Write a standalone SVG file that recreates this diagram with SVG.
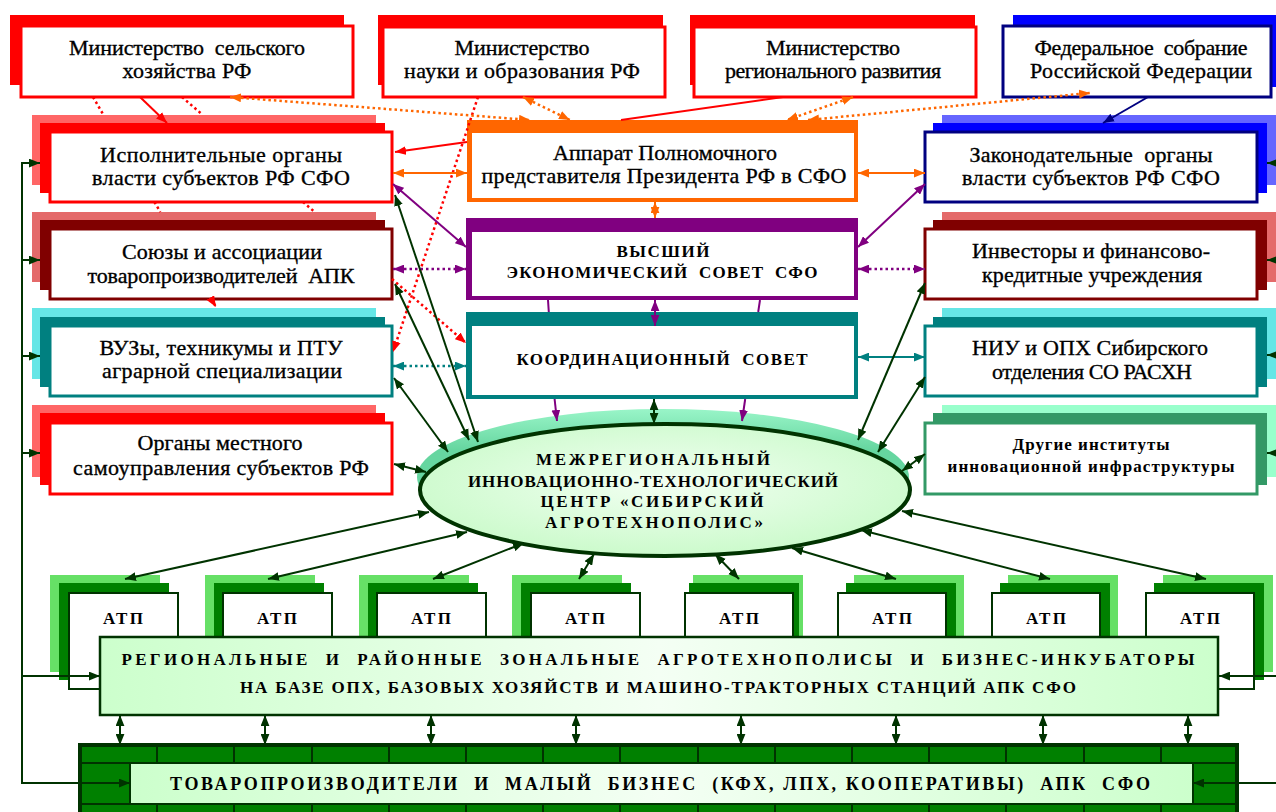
<svg xmlns="http://www.w3.org/2000/svg" width="1276" height="812" viewBox="0 0 1276 812">
<defs>
<style>
.t{font-family:"Liberation Serif","DejaVu Serif",serif;font-size:22px;fill:#000;stroke:#000;stroke-width:0.35px;text-anchor:middle}
.b{font-family:"Liberation Serif","DejaVu Serif",serif;font-size:17px;font-weight:bold;fill:#000;text-anchor:middle}
.bb{font-family:"Liberation Serif","DejaVu Serif",serif;font-size:18px;font-weight:bold;fill:#000;text-anchor:middle}
.fw{fill:#fff;stroke-width:3}
.c{fill:none;stroke-width:2}
.d{fill:none;stroke-width:2.5;stroke-dasharray:2.5 3}
.red{stroke:#FF0000}.org{stroke:#FF6600}.pur{stroke:#800080}.tea{stroke:#008080}.nav{stroke:#000080}.grn{stroke:#003300}
.atpL{fill:#66E066}.atpM{fill:#008000}.atpF{fill:#fff;stroke:#003300;stroke-width:2}
</style>
<marker id="aR" viewBox="0 0 10 8" refX="10" refY="4" markerWidth="11" markerHeight="9" markerUnits="userSpaceOnUse" orient="auto-start-reverse"><path d="M0,0L10,4L0,8z" fill="#FF0000"/></marker>
<marker id="aO" viewBox="0 0 10 8" refX="10" refY="4" markerWidth="11" markerHeight="9" markerUnits="userSpaceOnUse" orient="auto-start-reverse"><path d="M0,0L10,4L0,8z" fill="#FF6600"/></marker>
<marker id="aP" viewBox="0 0 10 8" refX="10" refY="4" markerWidth="11" markerHeight="9" markerUnits="userSpaceOnUse" orient="auto-start-reverse"><path d="M0,0L10,4L0,8z" fill="#800080"/></marker>
<marker id="aT" viewBox="0 0 10 8" refX="10" refY="4" markerWidth="11" markerHeight="9" markerUnits="userSpaceOnUse" orient="auto-start-reverse"><path d="M0,0L10,4L0,8z" fill="#008080"/></marker>
<marker id="aN" viewBox="0 0 10 8" refX="10" refY="4" markerWidth="11" markerHeight="9" markerUnits="userSpaceOnUse" orient="auto-start-reverse"><path d="M0,0L10,4L0,8z" fill="#000080"/></marker>
<marker id="aG" viewBox="0 0 10 8" refX="10" refY="4" markerWidth="11" markerHeight="9" markerUnits="userSpaceOnUse" orient="auto-start-reverse"><path d="M0,0L10,4L0,8z" fill="#003300"/></marker>
<linearGradient id="lg" x1="0" y1="0" x2="1" y2="0"><stop offset="0" stop-color="#CCFFCC"/><stop offset="0.5" stop-color="#F4FFF4"/><stop offset="1" stop-color="#CCFFCC"/></linearGradient>
<radialGradient id="eg" cx="0.5" cy="0.45" r="0.6"><stop offset="0" stop-color="#F2FFF2"/><stop offset="1" stop-color="#C8FAC8"/></radialGradient>
<linearGradient id="bandg" x1="0" y1="0" x2="0" y2="1"><stop offset="0" stop-color="#99F5C8"/><stop offset="0.3" stop-color="#66D6A0"/><stop offset="1" stop-color="#66D6A0"/></linearGradient>
</defs>

<g id="min-selhoz">
<rect x="10" y="15" width="334" height="70" fill="#FF0000"/>
<rect x="21" y="26" width="332" height="71" class="fw" stroke="#FF0000"/>
<text class="t" x="187" y="55" textLength="236" lengthAdjust="spacing" xml:space="preserve">Министерство  сельского</text>
<text class="t" x="187" y="78" textLength="129" lengthAdjust="spacing">хозяйства РФ</text>
</g>
<g id="min-nauki">
<rect x="378" y="15" width="285" height="70" fill="#FF0000"/>
<rect x="383" y="27" width="282" height="70" class="fw" stroke="#FF0000"/>
<text class="t" x="522" y="55" textLength="135" lengthAdjust="spacing">Министерство</text>
<text class="t" x="522" y="78" textLength="236" lengthAdjust="spacing">науки и образования РФ</text>
</g>
<g id="min-region">
<rect x="690" y="15" width="285" height="70" fill="#FF0000"/>
<rect x="694" y="27" width="282" height="70" class="fw" stroke="#FF0000"/>
<text class="t" x="833" y="55" textLength="134" lengthAdjust="spacing">Министерство</text>
<text class="t" x="833" y="78" textLength="216" lengthAdjust="spacing">регионального развития</text>
</g>
<g id="fed-sobranie">
<rect x="1013" y="15" width="263" height="72" fill="#0000FF"/>
<rect x="1003" y="26" width="268" height="71" class="fw" stroke="#000080"/>
<text class="t" x="1141" y="55" textLength="213" lengthAdjust="spacing" xml:space="preserve">Федеральное  собрание</text>
<text class="t" x="1141" y="78" textLength="222" lengthAdjust="spacing">Российской Федерации</text>
</g>

<g id="ispoln">
<rect x="32" y="115" width="344" height="70" fill="#FF6666"/>
<rect x="40" y="123" width="345" height="70" fill="#FF0000"/>
<rect x="50" y="132" width="342" height="70" class="fw" stroke="#FF0000"/>
<text class="t" x="221" y="162" textLength="242" lengthAdjust="spacing">Исполнительные органы</text>
<text class="t" x="221" y="185" textLength="258" lengthAdjust="spacing">власти субъектов РФ СФО</text>
</g>
<g id="soyuzy">
<rect x="32" y="212" width="344" height="70" fill="#E46A6A"/>
<rect x="40" y="220" width="345" height="70" fill="#800000"/>
<rect x="50" y="229" width="342" height="70" class="fw" stroke="#800000"/>
<text class="t" x="222" y="259" textLength="200" lengthAdjust="spacing">Союзы и ассоциации</text>
<text class="t" x="221" y="283" textLength="267" lengthAdjust="spacing" xml:space="preserve">товаропроизводителей  АПК</text>
</g>
<g id="vuzy">
<rect x="32" y="308" width="344" height="71" fill="#66E6E6"/>
<rect x="40" y="317" width="345" height="70" fill="#008080"/>
<rect x="50" y="326" width="342" height="70" class="fw" stroke="#008080"/>
<text class="t" x="221" y="355" textLength="243" lengthAdjust="spacing">ВУЗы, техникумы и ПТУ</text>
<text class="t" x="222" y="378" textLength="240" lengthAdjust="spacing">аграрной специализации</text>
</g>
<g id="organy-mestnogo">
<rect x="32" y="405" width="344" height="72" fill="#FF6666"/>
<rect x="40" y="413" width="345" height="72" fill="#FF0000"/>
<rect x="50" y="423" width="342" height="71" class="fw" stroke="#FF0000"/>
<text class="t" x="220" y="450" textLength="165" lengthAdjust="spacing">Органы местного</text>
<text class="t" x="221" y="475" textLength="296" lengthAdjust="spacing">самоуправления субъектов РФ</text>
</g>

<g id="apparat">
<rect x="467" y="120" width="391" height="82" fill="#FF6600"/>
<rect x="472" y="133" width="382" height="65" fill="#fff"/>
<text class="t" x="665" y="160" textLength="224" lengthAdjust="spacing">Аппарат Полномочного</text>
<text class="t" x="664" y="183" textLength="365" lengthAdjust="spacing">представителя Президента РФ в СФО</text>
</g>
<g id="vysshiy-sovet">
<rect x="466" y="218" width="392" height="82" fill="#800080"/>
<rect x="472" y="232" width="382" height="64" fill="#fff"/>
<text class="b" x="663" y="257" textLength="93" lengthAdjust="spacing">ВЫСШИЙ</text>
<text class="b" x="662" y="278" textLength="311" lengthAdjust="spacing" xml:space="preserve">ЭКОНОМИЧЕСКИЙ  СОВЕТ  СФО</text>
</g>
<g id="koord-sovet">
<rect x="466" y="312" width="392" height="87" fill="#008080"/>
<rect x="472" y="326" width="382" height="69" fill="#fff"/>
<text class="b" x="662" y="365" textLength="291" lengthAdjust="spacing" xml:space="preserve">КООРДИНАЦИОННЫЙ  СОВЕТ</text>
</g>

<g id="zakonod">
<rect x="942" y="115" width="334" height="70" fill="#6666FF"/>
<rect x="933" y="123" width="334" height="70" fill="#0000FF"/>
<rect x="925" y="132" width="332" height="70" class="fw" stroke="#000080"/>
<text class="t" x="1091" y="162" textLength="243" lengthAdjust="spacing" xml:space="preserve">Законодательные  органы</text>
<text class="t" x="1091" y="185" textLength="258" lengthAdjust="spacing">власти субъектов РФ СФО</text>
</g>
<g id="investory">
<rect x="942" y="212" width="334" height="70" fill="#E46A6A"/>
<rect x="933" y="220" width="334" height="70" fill="#800000"/>
<rect x="925" y="229" width="332" height="70" class="fw" stroke="#800000"/>
<text class="t" x="1091" y="258" textLength="238" lengthAdjust="spacing">Инвесторы и финансово-</text>
<text class="t" x="1092" y="282" textLength="220" lengthAdjust="spacing">кредитные учреждения</text>
</g>
<g id="niu">
<rect x="942" y="308" width="334" height="71" fill="#66E6E6"/>
<rect x="933" y="317" width="334" height="70" fill="#008080"/>
<rect x="925" y="326" width="332" height="70" class="fw" stroke="#008080"/>
<text class="t" x="1090" y="355" textLength="236" lengthAdjust="spacing">НИУ и ОПХ Сибирского</text>
<text class="t" x="1092" y="379" textLength="200" lengthAdjust="spacing">отделения СО РАСХН</text>
</g>
<g id="drugie">
<rect x="942" y="405" width="334" height="72" fill="#99FFCC"/>
<rect x="933" y="413" width="334" height="72" fill="#339966"/>
<rect x="925" y="423" width="332" height="71" class="fw" stroke="#339966"/>
<text class="b" x="1091" y="450" textLength="157" lengthAdjust="spacing">Другие институты</text>
<text class="b" x="1091" y="472" textLength="287" lengthAdjust="spacing">инновационной инфраструктуры</text>
</g>

<g id="agrotechnopolis">
<ellipse cx="663" cy="477" rx="246" ry="68" fill="url(#bandg)"/>
<ellipse cx="665" cy="490" rx="245" ry="66" fill="url(#eg)" stroke="#003300" stroke-width="4"/>
<text class="b" x="653" y="465" textLength="234" lengthAdjust="spacing">МЕЖРЕГИОНАЛЬНЫЙ</text>
<text class="b" x="653" y="487" textLength="370" lengthAdjust="spacing">ИННОВАЦИОННО-ТЕХНОЛОГИЧЕСКИЙ</text>
<text class="b" x="652" y="507" textLength="223" lengthAdjust="spacing">ЦЕНТР «СИБИРСКИЙ</text>
<text class="b" x="654" y="528" textLength="218" lengthAdjust="spacing">АГРОТЕХНОПОЛИС»</text>
</g>

<g id="atp1"><rect class="atpL" x="50" y="575" width="110" height="97"/><rect class="atpM" x="59" y="583" width="110" height="97"/><rect class="atpF" x="69" y="593" width="109" height="96"/><text class="b" x="123" y="624" textLength="40" lengthAdjust="spacing">АТП</text></g>
<g id="atp2"><rect class="atpL" x="205" y="575" width="110" height="97"/><rect class="atpM" x="214" y="583" width="110" height="97"/><rect class="atpF" x="223" y="593" width="109" height="96"/><text class="b" x="277" y="624" textLength="40" lengthAdjust="spacing">АТП</text></g>
<g id="atp3"><rect class="atpL" x="359" y="575" width="110" height="97"/><rect class="atpM" x="368" y="583" width="110" height="97"/><rect class="atpF" x="377" y="593" width="109" height="96"/><text class="b" x="431" y="624" textLength="40" lengthAdjust="spacing">АТП</text></g>
<g id="atp4"><rect class="atpL" x="512" y="575" width="110" height="97"/><rect class="atpM" x="521" y="583" width="110" height="97"/><rect class="atpF" x="531" y="593" width="109" height="96"/><text class="b" x="585" y="624" textLength="40" lengthAdjust="spacing">АТП</text></g>
<g id="atp5"><rect class="atpL" x="693" y="575" width="110" height="97"/><rect class="atpM" x="689" y="583" width="110" height="97"/><rect class="atpF" x="685" y="593" width="108" height="96"/><text class="b" x="739" y="624" textLength="40" lengthAdjust="spacing">АТП</text></g>
<g id="atp6"><rect class="atpL" x="854" y="575" width="110" height="97"/><rect class="atpM" x="846" y="583" width="110" height="97"/><rect class="atpF" x="838" y="593" width="108" height="96"/><text class="b" x="892" y="624" textLength="40" lengthAdjust="spacing">АТП</text></g>
<g id="atp7"><rect class="atpL" x="1008" y="575" width="110" height="97"/><rect class="atpM" x="1000" y="583" width="110" height="97"/><rect class="atpF" x="992" y="593" width="108" height="96"/><text class="b" x="1046" y="624" textLength="40" lengthAdjust="spacing">АТП</text></g>
<g id="atp8"><rect class="atpL" x="1163" y="575" width="110" height="97"/><rect class="atpM" x="1154" y="583" width="110" height="97"/><rect class="atpF" x="1146" y="593" width="108" height="96"/><text class="b" x="1200" y="624" textLength="40" lengthAdjust="spacing">АТП</text></g>

<g id="regional">
<rect x="100" y="637" width="1118" height="78" fill="url(#lg)" stroke="#003300" stroke-width="2.5"/>
<text class="b" x="658" y="665" textLength="1073" lengthAdjust="spacing" xml:space="preserve">РЕГИОНАЛЬНЫЕ  И  РАЙОННЫЕ  ЗОНАЛЬНЫЕ  АГРОТЕХНОПОЛИСЫ  И  БИЗНЕС-ИНКУБАТОРЫ</text>
<text class="b" x="658" y="693" textLength="836" lengthAdjust="spacing">НА БАЗЕ ОПХ, БАЗОВЫХ ХОЗЯЙСТВ И МАШИНО-ТРАКТОРНЫХ СТАНЦИЙ АПК СФО</text>
</g>

<g id="tovaroproizv">
<rect x="80" y="745" width="1157" height="75" fill="#008000" stroke="#003300" stroke-width="4"/>
<path d="M157,745V763M234,745V763M312,745V763M389,745V763M466,745V763M543,745V763M620,745V763M698,745V763M775,745V763M852,745V763M929,745V763M1006,745V763M1084,745V763M1161,745V763M157,804V812M234,804V812M312,804V812M389,804V812M466,804V812M543,804V812M620,804V812M698,804V812M775,804V812M852,804V812M929,804V812M1006,804V812M1084,804V812M1161,804V812M82,763H1235M82,804H1235" stroke="#003300" stroke-width="2" fill="none"/>
<rect x="130" y="763" width="1063" height="41" fill="url(#lg)" stroke="#003300" stroke-width="2"/>
<text class="bb" x="660" y="790" textLength="980" lengthAdjust="spacing" xml:space="preserve">ТОВАРОПРОИЗВОДИТЕЛИ  И  МАЛЫЙ  БИЗНЕС  (КФХ, ЛПХ, КООПЕРАТИВЫ)  АПК  СФО</text>
</g>

<g id="connectors">
<path class="c red" d="M140,97L167,123" marker-end="url(#aR)"/>
<path class="d red" d="M93,97L103.5,115M154.4,202L160.3,212"/>
<path class="d red" d="M211.2,299L216,307" marker-end="url(#aR)"/>
<path class="d red" d="M182,97L202.8,115M303,202L314.7,212"/>
<path class="d red" d="M392,279L466,343" marker-end="url(#aR)"/>
<path class="d red" d="M478,97L393,352" marker-end="url(#aR)"/>
<path class="c red" d="M783,97L621,120"/>
<path class="c red" d="M467,142L395,152" marker-end="url(#aR)"/>

<path class="d org" d="M230,97L530,120" marker-start="url(#aO)" marker-end="url(#aO)"/>
<path class="d org" d="M523,97L570,120" marker-start="url(#aO)" marker-end="url(#aO)"/>
<path class="d org" d="M853,97L787,120" marker-start="url(#aO)" marker-end="url(#aO)"/>
<path class="d org" d="M808,120L1090,93" marker-start="url(#aO)" marker-end="url(#aO)"/>
<path class="c org" d="M393,173L467,173" marker-start="url(#aO)" marker-end="url(#aO)"/>
<path class="c org" d="M858,173L925,173" marker-start="url(#aO)" marker-end="url(#aO)"/>
<path class="c org" d="M655,202L655,218" marker-start="url(#aO)" marker-end="url(#aO)"/>

<path class="c nav" d="M1148,97L1103,123" marker-end="url(#aN)"/>

<path class="c pur" d="M393,184L466,247" marker-start="url(#aP)" marker-end="url(#aP)"/>
<path class="c pur" d="M858,247L925,184" marker-start="url(#aP)" marker-end="url(#aP)"/>
<path class="d pur" d="M393,269L466,269" marker-start="url(#aP)" marker-end="url(#aP)"/>
<path class="d pur" d="M858,269L925,269" marker-start="url(#aP)" marker-end="url(#aP)"/>
<path class="c pur" d="M655,300L655,326" marker-start="url(#aP)" marker-end="url(#aP)"/>
<path class="c pur" d="M548,300L548.8,312M758.2,312L760,300"/>
<path class="c pur" d="M554.6,399L557,421" marker-end="url(#aP)"/>
<path class="c pur" d="M745.2,399L742,421" marker-end="url(#aP)"/>

<path class="d tea" d="M393,366L466,366" marker-start="url(#aT)" marker-end="url(#aT)"/>
<path class="c tea" d="M858,357L925,357" marker-start="url(#aT)" marker-end="url(#aT)"/>

<path class="c grn" d="M395,195L478,442" marker-start="url(#aG)" marker-end="url(#aG)"/>
<path class="c grn" d="M395,284L469,440" marker-start="url(#aG)" marker-end="url(#aG)"/>
<path class="c grn" d="M394,378L448,452" marker-start="url(#aG)" marker-end="url(#aG)"/>
<path class="c grn" d="M394,464L426,472" marker-start="url(#aG)" marker-end="url(#aG)"/>
<path class="c grn" d="M925,283L858,440" marker-start="url(#aG)" marker-end="url(#aG)"/>
<path class="c grn" d="M925,377L878,452" marker-start="url(#aG)" marker-end="url(#aG)"/>
<path class="c grn" d="M925,454L902,471" marker-start="url(#aG)" marker-end="url(#aG)"/>
<path class="c grn" d="M654,399L654,424" marker-start="url(#aG)" marker-end="url(#aG)"/>

<path class="c grn" d="M429,512L125,579" marker-start="url(#aG)" marker-end="url(#aG)"/>
<path class="c grn" d="M467,532L268,579" marker-start="url(#aG)" marker-end="url(#aG)"/>
<path class="c grn" d="M524,543L433,579" marker-start="url(#aG)" marker-end="url(#aG)"/>
<path class="c grn" d="M594,554L579,579" marker-start="url(#aG)" marker-end="url(#aG)"/>
<path class="c grn" d="M715,554L739,579" marker-start="url(#aG)" marker-end="url(#aG)"/>
<path class="c grn" d="M792,548L896,579" marker-start="url(#aG)" marker-end="url(#aG)"/>
<path class="c grn" d="M861,530L1050,579" marker-start="url(#aG)" marker-end="url(#aG)"/>
<path class="c grn" d="M902,511L1206,579" marker-start="url(#aG)" marker-end="url(#aG)"/>

<path class="c grn" d="M120,715L120,745" marker-start="url(#aG)" marker-end="url(#aG)"/>
<path class="c grn" d="M265,715L265,745" marker-start="url(#aG)" marker-end="url(#aG)"/>
<path class="c grn" d="M431,715L431,745" marker-start="url(#aG)" marker-end="url(#aG)"/>
<path class="c grn" d="M576,715L576,745" marker-start="url(#aG)" marker-end="url(#aG)"/>
<path class="c grn" d="M741,715L741,745" marker-start="url(#aG)" marker-end="url(#aG)"/>
<path class="c grn" d="M896,715L896,745" marker-start="url(#aG)" marker-end="url(#aG)"/>
<path class="c grn" d="M1043,715L1043,745" marker-start="url(#aG)" marker-end="url(#aG)"/>
<path class="c grn" d="M1188,715L1188,745" marker-start="url(#aG)" marker-end="url(#aG)"/>

<path class="c grn" d="M22,163L22,783"/>
<path class="c grn" d="M21,163L40,163" marker-end="url(#aG)"/>
<path class="c grn" d="M22,260L40,260" marker-end="url(#aG)"/>
<path class="c grn" d="M22,356L40,356" marker-end="url(#aG)"/>
<path class="c grn" d="M22,453L40,453" marker-end="url(#aG)"/>
<path class="c grn" d="M22,676L100,676" marker-end="url(#aG)"/>
<path class="c grn" d="M21,783L130,783" marker-end="url(#aG)"/>

<path class="c grn" d="M1282,163L1267,163" marker-end="url(#aG)"/>
<path class="c grn" d="M1282,260L1267,260" marker-end="url(#aG)"/>
<path class="c grn" d="M1282,355L1267,355" marker-end="url(#aG)"/>
<path class="c grn" d="M1282,453L1267,453" marker-end="url(#aG)"/>
<path class="c grn" d="M1282,676L1219,676" marker-end="url(#aG)"/>
<path class="c grn" d="M1282,783L1193,783" marker-end="url(#aG)"/>
</g>
</svg>
